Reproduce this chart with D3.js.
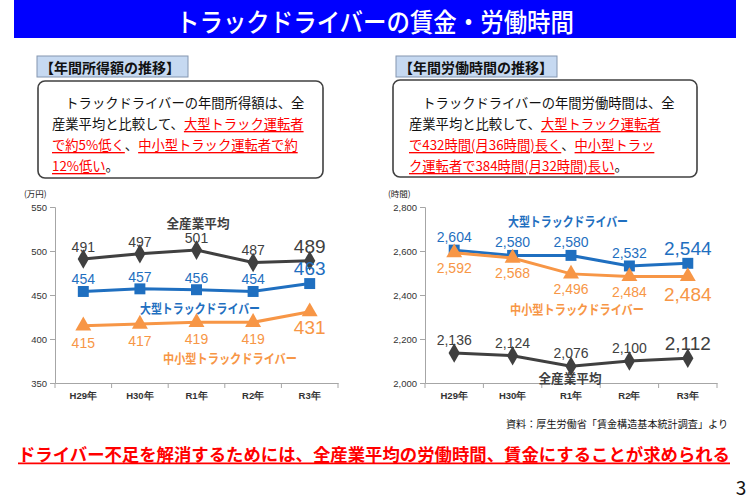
<!DOCTYPE html>
<html><head><meta charset="utf-8">
<script src="https://cdn.jsdelivr.net/npm/d3@7/dist/d3.min.js"></script>
<style>
html,body{margin:0;padding:0;background:#fff;}
svg{display:block;font-family:"Noto Sans CJK JP","Noto Sans",sans-serif;}
</style></head>
<body>
<svg id="c" width="750" height="500"></svg>
<script>
// ---- data ----
const years = ["H29年","H30年","R1年","R2年","R3年"];
const incomeAll = [491,497,501,487,489];
const incomeLarge = [454,457,456,454,463];
const incomeSmall = [415,417,419,419,431];
const incomeTicks = [350,400,450,500,550];
const hoursLarge = [2604,2580,2580,2532,2544];
const hoursSmall = [2592,2568,2496,2484,2484];
const hoursAll = [2136,2124,2076,2100,2112];
const hoursTicks = [2000,2200,2400,2600,2800];

const C_DARK="#404040", C_BLUE="#1F6FC0", C_ORANGE="#F79646", C_RED="#FF0000";
const svg = d3.select("#c");

// title bar
svg.append("rect").attr("x",14).attr("y",0).attr("width",722).attr("height",38).attr("fill","#0000FF");
svg.append("text").attr("x",375).attr("y",20).attr("text-anchor","middle").attr("dominant-baseline","central")
  .attr("fill","#fff").attr("font-size",26).attr("font-weight",500).attr("textLength",398).attr("lengthAdjust","spacingAndGlyphs")
  .text("トラックドライバーの賃金・労働時間");

// sub headings
function subHead(x,w,label){
  svg.append("rect").attr("x",x).attr("y",56).attr("width",w).attr("height",21)
    .attr("fill","#C6D9F1").attr("stroke","#8496B0").attr("stroke-width",1);
  svg.append("text").attr("x",x+3).attr("y",67).attr("dominant-baseline","central")
    .attr("font-size",14).attr("font-weight",700).attr("fill","#111").text(label);
}
subHead(37,151,"【年間所得額の推移】");
subHead(396,161,"【年間労働時間の推移】");

// text boxes
function textBox(x,y,w,h,tx,lines){
  svg.append("rect").attr("x",x).attr("y",y).attr("width",w).attr("height",h).attr("rx",7)
    .attr("fill","#fff").attr("stroke","#404040").attr("stroke-width",1.6);
  const ys=[102,123,144,165];
  lines.forEach((segs,i)=>{
    const t=svg.append("text").attr("x",tx).attr("y",ys[i]).attr("dominant-baseline","central")
      .attr("font-size",13.3).attr("fill","#111");
    segs.forEach(s=>{
      const ts=t.append("tspan").text(s[0]);
      if(s[1]) ts.attr("fill",C_RED).attr("text-decoration","underline");
    });
  });
}
textBox(38,81,285,97,52,[
  [["　トラックドライバーの年間所得額は、全",0]],
  [["産業平均と比較して、",0],["大型トラック運転者",1]],
  [["で約5%低く",1],["、",0],["中小型トラック運転者で約",1]],
  [["12%低い",1],["。",0]]
]);
textBox(393,80,304,97,409,[
  [["　トラックドライバーの年間労働時間は、全",0]],
  [["産業平均と比較して、",0],["大型トラック運転者",1]],
  [["で432時間(月36時間)長く",1],["、",0],["中小型トラッ",1]],
  [["ク運転者で384時間(月32時間)長い",1],["。",0]]
]);

// chart builder
function chart(opt){
  const g=svg.append("g");
  const x=d3.scaleBand().domain(years).range(opt.xr).padding(0);
  const y=d3.scaleLinear().domain(opt.yd).range([383,207]);
  const yAxis=d3.axisLeft(y).tickValues(opt.ticks).tickSize(5).tickFormat(opt.fmt);
  const ya=g.append("g").attr("transform",`translate(${opt.xr[0]},0)`).call(yAxis);
  ya.select(".domain").attr("stroke","#A6A6A6");
  ya.selectAll(".tick line").attr("stroke","#A6A6A6");
  ya.selectAll(".tick text").attr("fill","#333").attr("font-size",9.5).attr("font-family","Liberation Sans, Arial, sans-serif").attr("x",-8);
  const xa=g.append("g").attr("transform","translate(0,383)").call(d3.axisBottom(x).tickSize(0).tickPadding(9));
  xa.select(".domain").attr("stroke","#A6A6A6");
  xa.selectAll(".tick text").attr("fill","#333").attr("font-size",9.5).attr("font-weight",700);
  const bounds=years.map(d=>x(d)).concat([opt.xr[1]]);
  g.selectAll(".bt").data(bounds).join("line").attr("x1",d=>d).attr("x2",d=>d).attr("y1",383).attr("y2",388).attr("stroke","#A6A6A6");
  g.append("text").attr("x",opt.unitX).attr("y",193).attr("font-size",8.5).attr("fill","#222").attr("dominant-baseline","central").text(opt.unit);

  const cx=d=>x(d)+x.bandwidth()/2;
  opt.series.forEach(s=>{
    const pts=years.map((yy,i)=>[cx(yy),y(s.v[i]),s.v[i]]);
    g.append("path").attr("d",d3.line()(pts.map(p=>[p[0],p[1]]))).attr("fill","none").attr("stroke",s.c).attr("stroke-width",3);
    const sym=d3.symbol().type(s.sym).size(s.size);
    g.selectAll(null).data(pts).join("path")
      .attr("d",sym).attr("fill",s.c).attr("transform",p=>`translate(${p[0]},${p[1]})`);
    g.selectAll(null).data(pts).join("text")
      .attr("x",p=>p[0]).attr("y",(p,i)=>p[1]+(i===4?s.dyL:s.dy))
      .attr("text-anchor","middle").attr("dominant-baseline","central")
      .attr("font-family","Liberation Sans, Arial, sans-serif")
      .attr("font-size",(p,i)=>i===4?19:14).attr("fill",s.lc)
      .text(p=>opt.fmt(p[2]));
    g.append("text").attr("x",s.nx).attr("y",s.ny).attr("text-anchor","middle").attr("dominant-baseline","central")
      .attr("font-size",13).attr("font-weight",700).attr("fill",s.nc)
      .attr("textLength",s.nw).attr("lengthAdjust","spacingAndGlyphs").text(s.name);
  });
}

chart({xr:[55,338],yd:[350,550],ticks:incomeTicks,fmt:d3.format("d"),unit:"(万円)",unitX:24,
  series:[
    {v:incomeAll,c:C_DARK,lc:C_DARK,nc:C_DARK,sym:d3.symbolDiamond,size:110,dy:-12,dyL:-14,name:"全産業平均",nx:198,ny:222,nw:63},
    {v:incomeLarge,c:C_BLUE,lc:C_BLUE,nc:C_BLUE,sym:d3.symbolSquare,size:120,dy:-12,dyL:-15,name:"大型トラックドライバー",nx:200,ny:307,nw:120},
    {v:incomeSmall,c:C_ORANGE,lc:C_ORANGE,nc:C_ORANGE,sym:d3.symbolTriangle,size:110,dy:17,dyL:16,name:"中小型トラックドライバー",nx:230,ny:357,nw:134}
  ]});

chart({xr:[425,717],yd:[2000,2800],ticks:hoursTicks,fmt:d3.format(","),unit:"(時間)",unitX:388,
  series:[
    {v:hoursLarge,c:C_BLUE,lc:C_BLUE,nc:C_BLUE,sym:d3.symbolSquare,size:120,dy:-13,dyL:-15,name:"大型トラックドライバー",nx:568,ny:220,nw:120},
    {v:hoursSmall,c:C_ORANGE,lc:C_ORANGE,nc:C_ORANGE,sym:d3.symbolTriangle,size:110,dy:15,dyL:18,name:"中小型トラックドライバー",nx:577,ny:308,nw:134},
    {v:hoursAll,c:C_DARK,lc:C_DARK,nc:C_DARK,sym:d3.symbolDiamond,size:110,dy:-13,dyL:-15,name:"全産業平均",nx:570,ny:377,nw:63}
  ]});

// source
svg.append("text").attr("x",728).attr("y",423).attr("text-anchor","end").attr("dominant-baseline","central")
  .attr("font-size",10).attr("fill","#111").attr("textLength",222).attr("lengthAdjust","spacingAndGlyphs")
  .text("資料：厚生労働省「賃金構造基本統計調査」より");
// conclusion
svg.append("text").attr("x",18).attr("y",453).attr("dominant-baseline","central")
  .attr("font-size",17.5).attr("font-weight",700).attr("fill",C_RED).attr("text-decoration","underline")
  .attr("textLength",712).attr("lengthAdjust","spacingAndGlyphs")
  .text("ドライバー不足を解消するためには、全産業平均の労働時間、賃金にすることが求められる");
// page number
svg.append("text").attr("x",741).attr("y",486).attr("text-anchor","middle").attr("dominant-baseline","central")
  .attr("font-size",19).attr("fill","#111").text("3");
</script>
</body></html>
